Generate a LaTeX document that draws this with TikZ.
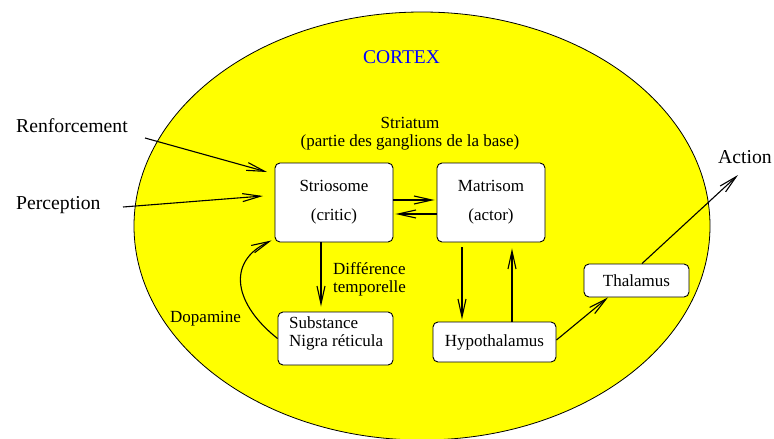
\documentclass[tikz,border=0pt]{standalone}
\usepackage{fontspec}
\setmainfont{Liberation Serif}
\usetikzlibrary{arrows.meta}
\definecolor{cortexyellow}{RGB}{255,255,0}
\definecolor{cortexblue}{RGB}{0,0,255}
\begin{document}
\begin{tikzpicture}[x=1pt,y=-1pt,
  box/.style={draw=black,line width=0.9pt,fill=white,rounded corners=5pt,inner sep=0pt},
  inner/.style={font=\fontsize{17}{20}\selectfont},
  outer/.style={font=\fontsize{19.7}{23}\selectfont,inner sep=0pt,anchor=base west},
  lab/.style={font=\fontsize{17}{18}\selectfont,inner sep=0pt},
  arr/.style={line width=1.1pt,-{Straight Barb[length=18pt,width=8pt,line width=1.1pt]}}]
\useasboundingbox (0,0) rectangle (774,439);
\draw[fill=cortexyellow,line width=0.8pt] (422,226) ellipse [x radius=288pt, y radius=214pt];

\node[font=\fontsize{19.5}{22}\selectfont,text=cortexblue,inner sep=0pt,anchor=base] (cortex) at (401.5,63) {CORTEX};
\node[lab,anchor=base,align=center] (striatum) at (410,146) {Striatum\\(partie des ganglions de la base)};

\node[box,inner,minimum width=118pt,minimum height=79pt,align=center] (strio) at (334,202.5) {Striosome\\[9pt](critic)};
\node[box,inner,minimum width=108pt,minimum height=79pt,align=center] (matr) at (491,202.5) {Matrisom\\[9pt](actor)};
\node[box,minimum width=115pt,minimum height=53pt] (subst) at (335.5,338.5) {};
\node[lab,anchor=base west,align=left] (substtxt) at (289,346) {Substance\\Nigra réticula};
\node[box,inner,minimum width=123pt,minimum height=40pt] (hypo) at (494.5,342) {Hypothalamus};
\node[box,inner,minimum width=105pt,minimum height=33pt] (thal) at (636.5,280.5) {Thalamus};

\node[outer] (renf) at (16,132) {Renforcement};
\node[outer] (perc) at (16,209) {Perception};
\node[outer] (action) at (718,163) {Action};

\node[lab,anchor=base west,align=left] (diff) at (333,292) {Différence\\temporelle};
\node[lab,anchor=base west] (dopa) at (170,322) {Dopamine};

\coordinate (renfS) at (145,138);
\coordinate (renfE) at (267,172);
\coordinate (percS) at (123,207);
\coordinate (percE) at (263,196);
\coordinate (actE) at (738,175);

\draw[arr] (renfS) -- (renfE);
\draw[arr] (percS) -- (percE);
\draw[arr] ([yshift=2.5pt]strio.east) -- ([yshift=2.5pt,xshift=-2pt]matr.west);
\draw[arr] ([yshift=-11.5pt]matr.west) -- ([yshift=-11.5pt,xshift=2pt]strio.east);
\draw[arr,shorten >=5pt] ([xshift=-13pt]strio.south) -- ([xshift=-13pt]strio.south |- subst.north);
\draw[arr,shorten <=5pt,shorten >=2pt] ([xshift=-29pt]matr.south) -- ([xshift=-29pt]matr.south |- hypo.north);
\draw[arr,shorten >=6pt] ([xshift=17.5pt]hypo.north) -- ([xshift=17.5pt]hypo.north |- matr.south);
\draw[arr] ([yshift=2pt]hypo.east) -- ([xshift=-28.5pt]thal.south);
\draw[arr] ([xshift=5.5pt]thal.north) -- (actE);
\draw[arr] (subst.west) .. controls (235,305) and (225,262) .. ([xshift=-3pt,yshift=2pt]strio.south west);
\end{tikzpicture}
\end{document}
